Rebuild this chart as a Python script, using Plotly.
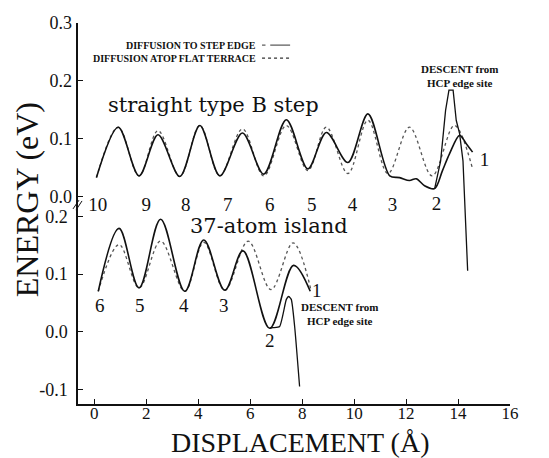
import plotly.graph_objects as go

# ---------------- data ----------------
# Top panel: straight type B step (energies on the upper axis, eV)
step_edge_x = [0.08, 0.92, 1.72, 2.45, 3.29, 4.06, 4.83, 5.70, 6.52, 7.39, 8.22, 8.93, 9.76, 10.53,
               11.37, 11.75, 12.13, 12.39, 12.71, 13.10, 13.40, 13.67, 14.06, 14.31, 14.56]
step_edge_e = [0.033, 0.120, 0.036, 0.107, 0.035, 0.123, 0.036, 0.110, 0.039, 0.133, 0.048, 0.111, 0.059, 0.143,
               0.036, 0.033, 0.028, 0.031, 0.019, 0.014, 0.045, 0.074, 0.106, 0.092, 0.077]
step_terrace_x = [0.08, 0.92, 1.72, 2.45, 3.29, 4.06, 4.83, 5.70, 6.52, 7.39, 8.22, 8.93, 9.76, 10.53,
                  11.30, 12.13, 13.00, 13.86, 14.56]
step_terrace_e = [0.033, 0.120, 0.036, 0.114, 0.035, 0.123, 0.036, 0.117, 0.036, 0.123, 0.045, 0.120, 0.040, 0.132,
                  0.040, 0.120, 0.036, 0.123, 0.048]
step_descent_x = [13.10, 13.33, 13.52, 13.65, 13.81, 13.93, 14.06, 14.19, 14.37]
step_descent_e = [0.014, 0.062, 0.149, 0.184, 0.184, 0.132, 0.109, 0.062, -0.128]

# Bottom panel: 37-atom island (energies on the lower axis, eV)
isl_edge_x = [0.15, 0.95, 1.72, 2.55, 3.48, 4.21, 5.02, 5.72, 6.75, 7.67, 8.31]
isl_edge_e = [0.070, 0.179, 0.076, 0.195, 0.070, 0.159, 0.072, 0.140, 0.006, 0.115, 0.070]
isl_terrace_x = [0.15, 0.95, 1.72, 2.55, 3.48, 4.21, 5.02, 5.92, 6.80, 7.65, 8.35]
isl_terrace_e = [0.070, 0.151, 0.076, 0.157, 0.070, 0.155, 0.072, 0.157, 0.073, 0.154, 0.070]
isl_descent_x = [6.75, 6.87, 7.13, 7.39, 7.48, 7.58, 7.71, 7.90]
isl_descent_e = [0.006, 0.007, 0.009, 0.056, 0.061, 0.056, 0.009, -0.095]

# site numbers
step_site_labels = ["10", "9", "8", "7", "6", "5", "4", "3", "2", "1"]
step_site_x = [0.13, 2.00, 3.52, 5.13, 6.75, 8.37, 9.94, 11.48, 13.17, 15.02]
step_site_e = [-0.016, -0.016, -0.016, -0.016, -0.016, -0.016, -0.016, -0.016, -0.014, 0.062]
isl_site_labels = ["6", "5", "4", "3", "2", "1"]
isl_site_x = [0.21, 1.75, 3.44, 4.98, 6.75, 8.56]
isl_site_e = [0.043, 0.043, 0.043, 0.043, -0.019, 0.068]

x_ticks = [0, 2, 4, 6, 8, 10, 12, 14, 16]
low_ticks = [-0.1, 0.0, 0.1, 0.2]
low_tick_text = ["-0.1", "0.0", "0.1", "0.2"]
up_ticks = [0.0, 0.1, 0.2, 0.3]
up_tick_text = ["0.0", "0.1", "0.2", "0.3"]

# ---------------- figure ----------------
SERIF = "Liberation Serif"
solid = dict(color="#111111", width=1.6)
descent = dict(color="#111111", width=1.3)
dotted = dict(color="#555555", width=1.3, dash="dot")

fig = go.Figure()
# upper panel (yaxis2)
fig.add_trace(go.Scatter(x=step_terrace_x, y=step_terrace_e, mode="lines", yaxis="y2",
                         line=dict(**dotted, shape="spline", smoothing=1.0), showlegend=False))
fig.add_trace(go.Scatter(x=step_edge_x, y=step_edge_e, mode="lines", yaxis="y2",
                         line=dict(**solid, shape="spline", smoothing=0.9), showlegend=False))
fig.add_trace(go.Scatter(x=step_descent_x, y=step_descent_e, mode="lines", yaxis="y2",
                         line=descent, showlegend=False))
# lower panel (yaxis)
fig.add_trace(go.Scatter(x=isl_terrace_x, y=isl_terrace_e, mode="lines", yaxis="y",
                         line=dict(**dotted, shape="spline", smoothing=1.0), showlegend=False))
fig.add_trace(go.Scatter(x=isl_edge_x, y=isl_edge_e, mode="lines", yaxis="y",
                         line=dict(**solid, shape="spline", smoothing=1.0), showlegend=False))
fig.add_trace(go.Scatter(x=isl_descent_x, y=isl_descent_e, mode="lines", yaxis="y",
                         line=dict(**descent, shape="spline", smoothing=0.5), showlegend=False))

# site number labels
fig.add_trace(go.Scatter(x=step_site_x, y=step_site_e, mode="text", yaxis="y2", text=step_site_labels,
                         textfont=dict(family=SERIF, size=19, color="#111"), showlegend=False,
                         cliponaxis=False))
fig.add_trace(go.Scatter(x=isl_site_x, y=isl_site_e, mode="text", yaxis="y", text=isl_site_labels,
                         textfont=dict(family=SERIF, size=19, color="#111"), showlegend=False,
                         cliponaxis=False))

ann = []
ann.append(dict(x=4.6, y=0.159, xref="x", yref="y2", text="straight type B step", showarrow=False,
                xanchor="center", yanchor="middle",
                font=dict(family="DejaVu Serif", size=21, color="#111")))
ann.append(dict(x=6.71, y=0.183, xref="x", yref="y", text="37-atom island", showarrow=False,
                xanchor="center", yanchor="middle",
                font=dict(family="DejaVu Serif", size=21, color="#111")))
ann.append(dict(x=14.06, y=0.208, xref="x", yref="y2", text="<b>DESCENT from<br>HCP edge site</b>",
                xanchor="center", yanchor="middle",
                showarrow=False, font=dict(family=SERIF, size=11, color="#111")))
ann.append(dict(x=9.44, y=0.030, xref="x", yref="y", text="<b>DESCENT from<br>HCP edge site</b>",
                xanchor="center", yanchor="middle",
                showarrow=False, font=dict(family=SERIF, size=11, color="#111")))
# legend (text left of the line samples)
ann.append(dict(x=0.417, y=0.942, xref="paper", yref="paper", xanchor="right", yanchor="middle",
                text="<b>DIFFUSION TO STEP EDGE</b>",
                showarrow=False, font=dict(family=SERIF, size=10, color="#111")))
ann.append(dict(x=0.417, y=0.908, xref="paper", yref="paper", xanchor="right", yanchor="middle",
                text="<b>DIFFUSION ATOP FLAT TERRACE</b>",
                showarrow=False, font=dict(family=SERIF, size=10, color="#111")))
# axis titles
ann.append(dict(x=-0.118, y=0.535, xref="paper", yref="paper", text="ENERGY (eV)", textangle=-90,
                xanchor="center", yanchor="middle",
                showarrow=False, font=dict(family=SERIF, size=32, color="#111")))
ann.append(dict(x=0.514, y=-0.10, xref="paper", yref="paper", text="DISPLACEMENT (Å)",
                xanchor="center", yanchor="middle",
                showarrow=False, font=dict(family=SERIF, size=28, color="#111")))

shapes = [
    dict(type="line", xref="paper", yref="paper", x0=0.426, x1=0.434, y0=0.942, y1=0.942,
         line=dict(color="#333", width=1)),
    dict(type="line", xref="paper", yref="paper", x0=0.445, x1=0.491, y0=0.942, y1=0.942,
         line=dict(color="#333", width=1)),
    dict(type="line", xref="paper", yref="paper", x0=0.426, x1=0.491, y0=0.908, y1=0.908,
         line=dict(color="#333", width=1.2, dash="dot")),
    # axis break marks
    dict(type="line", xref="paper", yref="paper", x0=-0.0116, x1=0.0023, y0=0.512, y1=0.535,
         line=dict(color="#111", width=1)),
    dict(type="line", xref="paper", yref="paper", x0=-0.0046, x1=0.0093, y0=0.509, y1=0.533,
         line=dict(color="#111", width=1)),
]

fig.update_layout(
    width=549, height=458,
    margin=dict(l=78, r=39, t=23, b=54),
    paper_bgcolor="white", plot_bgcolor="white",
    showlegend=False,
    annotations=ann, shapes=shapes,
    xaxis=dict(range=[-0.63, 16], tickvals=x_ticks, ticks="inside", ticklen=5, tickcolor="#111",
               showline=True, linecolor="#111", linewidth=1.5, showgrid=False, zeroline=False,
               ticklabelstandoff=-7,
               tickfont=dict(family=SERIF, size=17, color="#111")),
    yaxis=dict(range=[-0.1253, 0.535], tickvals=low_ticks, ticktext=low_tick_text, ticks="inside",
               ticklen=5, tickcolor="#111", showline=True, linecolor="#111", linewidth=1.5,
               ticklabelstandoff=5,
               showgrid=False, zeroline=False, tickfont=dict(family=SERIF, size=18, color="#111")),
    yaxis2=dict(range=[-0.358, 0.300], overlaying="y", side="left", anchor="x",
                tickvals=up_ticks, ticktext=up_tick_text, ticks="inside", ticklen=5, tickcolor="#111",
                ticklabelstandoff=5,
                showline=False, showgrid=False, zeroline=False,
                tickfont=dict(family=SERIF, size=18, color="#111")),
)

fig.write_html("out.html", config={"displayModeBar": False},
               post_script="document.body.style.margin='0px';")
